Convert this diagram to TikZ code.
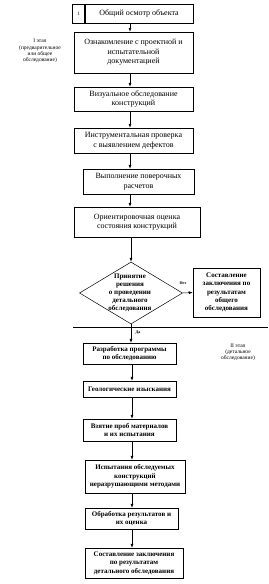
\documentclass[tikz,border=0pt]{standalone}
\usepackage{fontspec}
\setmainfont{Liberation Serif}
\usetikzlibrary{arrows.meta, shapes.geometric}

\begin{document}
\begin{tikzpicture}[x=1pt,y=-1pt,
  blok/.style={draw,line width=0.5pt,align=center,inner sep=0pt},
  verh/.style={blok,font=\fontsize{8}{9.5}\selectfont},
  niz/.style={blok,font=\fontsize{7}{8.3}\selectfont\bfseries},
  strelka/.style={-{Latex[length=4pt,width=3pt]},line width=0.5pt},
  pometka/.style={align=center,inner sep=0pt,font=\fontsize{5.5}{6.2}\selectfont}]
\useasboundingbox (0,0) rectangle (268,584);

% I stage: preliminary survey.
\node[verh,minimum width=108,minimum height=19] (b1) at (139,13.5) {Общий осмотр объекта};
\node[blok,minimum width=12,minimum height=19,anchor=east,
  font=\fontsize{5}{6}\selectfont] (n1) at (b1.west) {1};
\node[verh,minimum width=119,minimum height=41] (b2) at (133.5,52.5)
  {Ознакомление с проектной и\\испытательной\\документацией};
\node[verh,minimum width=119,minimum height=24] (b3) at (133.5,99)
  {Визуальное обследование\\конструкций};
\node[verh,minimum width=119,minimum height=25] (b4) at (133.5,140.5)
  {Инструментальная проверка\\с выявлением дефектов};
\node[verh,minimum width=111,minimum height=25] (b5) at (138.5,181.5)
  {Выполнение поверочных\\расчетов};
\node[verh,minimum width=126,minimum height=30] (b6) at (137,222)
  {Ориентировочная оценка\\состояния конструкций};

\coordinate (os) at (130,0);
\draw[strelka] (b1.south -| os) -- (b2.north -| os);
\draw[strelka] (b2.south -| os) -- (b3.north -| os);
\draw[strelka] (b3.south -| os) -- (b4.north -| os);
\draw[strelka] (b4.south -| os) -- (b5.north -| os);
\draw[strelka] (b5.south -| os) -- (b6.north -| os);

\node[pometka] (et1) at (40,51)
  {I этап\\(предварительное\\или общее\\обследование)};

% Decision.
\node[draw,diamond,line width=0.5pt,minimum width=103,minimum height=62,inner sep=0pt] (d) at (131,293) {};
\node[align=center,inner sep=0pt,font=\fontsize{7}{8}\selectfont\bfseries] (dt) at (130,293)
  {Принятие\\решения\\о проведении\\детального\\обследования};
\node[niz,minimum width=67,minimum height=49] (r) at (226.5,292.5)
  {Составление\\заключения по\\результатам\\общего\\обследования};
\draw[strelka] (b6.south -| d) -- (d.north);
\draw[strelka] (d.east) -- (r.west);
\node[inner sep=0pt,font=\fontsize{4}{4}\selectfont\bfseries] (net) at (183,283) {Нет};

\draw[line width=0.5pt] (73,327) -- (268,327);
\node[inner sep=0pt,font=\fontsize{4}{4}\selectfont\bfseries] (da) at (138,333) {Да};

% II stage: detailed survey.
\node[niz,minimum width=93,minimum height=21] (b7) at (129.5,353.5)
  {Разработка программы\\по обследованию};
\node[niz,minimum width=93,minimum height=16] (b8) at (129.5,389)
  {Геологические изыскания};
\node[niz,minimum width=93,minimum height=22] (b9) at (129.5,430)
  {Взятие проб материалов\\и их испытания};
\node[niz,minimum width=100,minimum height=33] (b10) at (135,476.5)
  {Испытания обследуемых\\конструкций\\неразрушающими методами};
\node[niz,minimum width=93,minimum height=21] (b11) at (131.5,518.5)
  {Обработка результатов и\\их оценка};
\node[niz,minimum width=98,minimum height=30] (b12) at (134,563)
  {Составление заключения\\по результатам\\детального обследования};

\draw[strelka] (d.south) -- (d.south |- b7.north);
\coordinate (os2) at (132,0);
\draw[strelka] (b7.south -| os2) -- (b8.north -| os2);
\draw[strelka] (b8.south -| os2) -- (b9.north -| os2);
\draw[strelka] (b9.south -| os2) -- (b10.north -| os2);
\draw[strelka] (b10.south -| os2) -- (b11.north -| os2);
\draw[strelka] (b11.south -| os2) -- (b12.north -| os2);

\node[pometka] (et2) at (238,352)
  {II этап\\(детальное\\обследование)};
\end{tikzpicture}
\end{document}
